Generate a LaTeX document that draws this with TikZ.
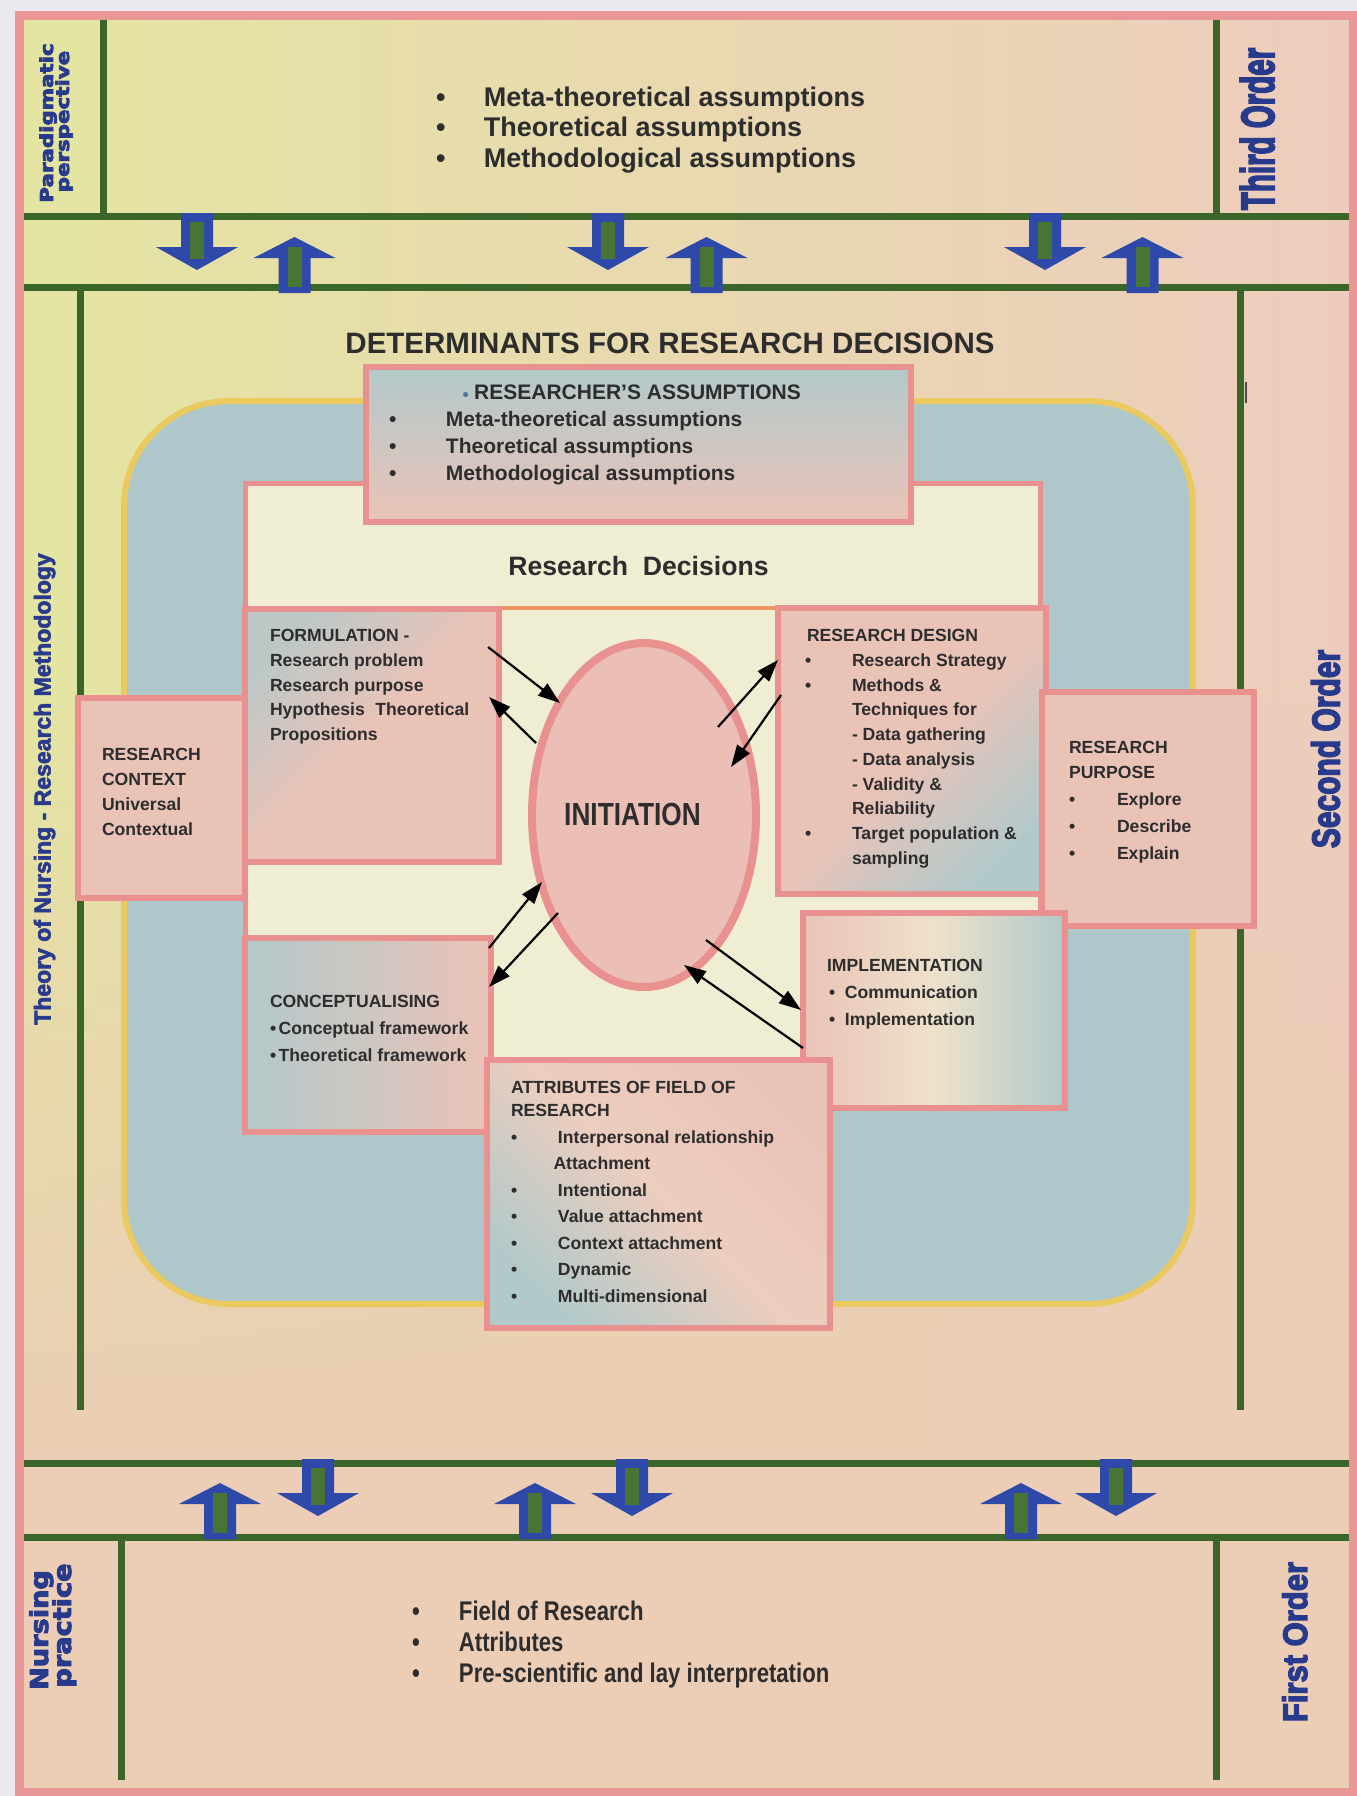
\documentclass[tikz,border=0pt]{standalone}
\usepackage{fontspec}
\usepackage{graphicx}
\setmainfont{Liberation Sans}
\newfontfamily\condfont{Liberation Sans}[FakeStretch=0.82]
\newfontfamily\widefont{DejaVu Sans}
\usetikzlibrary{arrows.meta,shapes.geometric,fadings}

\definecolor{bgyellow}{RGB}{228,229,162}
\definecolor{bgpink}{RGB}{237,204,189}
\definecolor{bgpeach}{RGB}{235,206,181}
\definecolor{framepink}{RGB}{232,150,150}
\definecolor{linegreen}{RGB}{58,102,42}
\definecolor{arrblue}{RGB}{47,73,170}
\definecolor{arrgreen}{RGB}{72,116,52}
\definecolor{tealfill}{RGB}{174,199,202}
\definecolor{ringyellow}{RGB}{234,201,95}
\definecolor{boxpink}{RGB}{233,145,143}
\definecolor{fillpink}{RGB}{234,195,183}
\definecolor{fillblue}{RGB}{178,201,202}
\definecolor{ellpink}{RGB}{235,191,181}
\definecolor{cream}{RGB}{240,238,210}
\definecolor{txt}{RGB}{45,45,45}
\definecolor{navy}{RGB}{40,58,140}
\definecolor{sepline}{RGB}{236,150,100}
\definecolor{margin}{RGB}{232,233,238}
\definecolor{bulblue}{RGB}{80,120,170}

\newcommand\bul[1]{\makebox[#1][l]{\textbullet}}
\newcommand\heavy[2]{\special{pdf:literal direct 2 Tr #1 w}#2\special{pdf:literal direct 0 Tr}}
\newcommand\dnarr[2]{%
 \fill[arrblue] ({#1-16},#2) -- ({#1+16},#2) -- ({#1+16},{#2+34}) -- ({#1+41},{#2+34}) -- (#1,{#2+57}) -- ({#1-41},{#2+34}) -- ({#1-16},{#2+34}) -- cycle;
 \fill[arrgreen] ({#1-7},{#2+9}) rectangle ({#1+7},{#2+46});}
\newcommand\uparr[2]{%
 \fill[arrblue] (#1,#2) -- ({#1+41},{#2+21}) -- ({#1+16},{#2+21}) -- ({#1+16},{#2+56}) -- ({#1-16},{#2+56}) -- ({#1-16},{#2+21}) -- ({#1-41},{#2+21}) -- cycle;
 \fill[arrgreen] ({#1-7},{#2+10}) rectangle ({#1+7},{#2+50});}

\tikzset{
  gline/.style={draw=linegreen, line width=7pt},
  boxst/.style={draw=boxpink, line width=6pt, rectangle, inner sep=0pt, outer sep=0pt},
  tx/.style={anchor=base west, inner sep=0pt, outer sep=0pt, text=txt, font=\bfseries\fontsize{17.6}{24.75}\selectfont},
  lbl/.style={rotate=90, anchor=base, inner sep=0pt, outer sep=0pt, text=navy},
  blk/.style={draw=black, line width=2.2pt, -{Triangle[length=22pt,width=15pt]}},
}

\begin{document}
\begin{tikzpicture}[x=1pt,y=-1pt]
\useasboundingbox (0,0) rectangle (1357,1796);
\fill[margin] (0,0) rectangle (1357,1796);
% background
\shade[left color=bgyellow, right color=bgpink] (19,15) rectangle (1353,1792);
\fill[bgpeach, path fading=north] (19,700) rectangle (1353,1450);
\fill[bgpeach] (19,1449) rectangle (1353,1792);

% green lines
\draw[gline] (19,216) -- (1353,216);
\draw[gline] (19,287) -- (1353,287);
\draw[gline] (103.5,19) -- (103.5,216);
\draw[gline] (1216,19) -- (1216,216);
\draw[gline] (80,287) -- (80,1410);
\draw[gline] (1240,287) -- (1240,1410);
\draw[gline] (19,1463) -- (1353,1463);
\draw[gline] (19,1537) -- (1353,1537);
\draw[gline] (121,1537) -- (121,1780);
\draw[gline] (1216,1537) -- (1216,1780);
\draw[black!70, line width=1.5pt] (1246,382) -- (1246,403);

% frame
\draw[framepink, line width=9pt] (19,15) rectangle (1353,1792);

% blue arrows
\dnarr{197}{213} \uparr{294.5}{237}
\dnarr{608}{213} \uparr{706.5}{237}
\dnarr{1045}{213} \uparr{1142.5}{237}
\uparr{220}{1483} \dnarr{318}{1459}
\uparr{535}{1483} \dnarr{632}{1459}
\uparr{1021}{1483} \dnarr{1116}{1459}

% top and bottom lists
\node[tx, font=\bfseries\fontsize{27}{30.5}\selectfont] (toplist) at (436,106)
 {\begin{tabular}[t]{@{}l@{}}\bul{48pt}Meta-theoretical assumptions\\ \bul{48pt}Theoretical assumptions\\ \bul{48pt}Methodological assumptions\end{tabular}};
\node[tx, font=\condfont\bfseries\fontsize{27}{31}\selectfont] (botlist) at (412,1620.5)
 {\begin{tabular}[t]{@{}l@{}}\bul{47pt}Field of Research\\ \bul{47pt}Attributes\\ \bul{47pt}Pre-scientific and lay interpretation\end{tabular}};

% rotated labels
\node[lbl, font=\widefont\bfseries\fontsize{17.8}{18}\selectfont] (para1) at (53,123) {\scalebox{1.2}[1]{\heavy{0.7}{Paradigmatic}}};
\node[lbl, font=\widefont\bfseries\fontsize{17.8}{18}\selectfont] (para2) at (69,121.5) {\scalebox{1.2}[1]{\heavy{0.7}{perspective}}};
\node[lbl, font=\widefont\bfseries\fontsize{24.7}{25}\selectfont] (nurs1) at (48,1630) {\scalebox{1.1}[1]{\heavy{0.9}{Nursing}}};
\node[lbl, font=\widefont\bfseries\fontsize{24.7}{25}\selectfont] (nurs2) at (71,1625.5) {\scalebox{1.1}[1]{\heavy{0.9}{practice}}};
\node[lbl, font=\bfseries\fontsize{29.5}{30}\selectfont] (third) at (1274,129) {\scalebox{1}[1.58]{\heavy{1.3}{Third Order}}};
\node[lbl, font=\bfseries\fontsize{30}{30}\selectfont] (second) at (1339.5,749) {\scalebox{1}[1.3]{\heavy{1.2}{Second Order}}};
\node[lbl, font=\bfseries\fontsize{31}{31}\selectfont] (first) at (1307,1642) {\scalebox{1}[1.1]{\heavy{1.2}{First Order}}};
\node[lbl, font=\bfseries\fontsize{23}{23}\selectfont] (theory) at (50.5,789) {\heavy{0.6}{Theory of Nursing - Research Methodology}};

% determinants title
\node[anchor=base, inner sep=0pt, text=txt, font=\bfseries\fontsize{29.5}{30}\selectfont] (determ) at (670,353) {DETERMINANTS FOR RESEARCH DECISIONS};

% rounded teal ring
\draw[ringyellow, line width=6pt, fill=tealfill, rounded corners=105pt] (124,401) rectangle (1193,1304);

% cream decisions box
\node[boxst, line width=5pt, fill=cream, minimum width=795pt, minimum height=579pt] (dec) at (642.5,772.5) {};
\draw[sepline, line width=4pt] (498,608) -- (779,608);

% boxes
\node[boxst, top color=fillblue, bottom color=fillpink, minimum width=545pt, minimum height=155pt] (assum) at (638.5,444.5) {};
\node[boxst, top color=fillblue!80!fillpink, bottom color=fillpink, middle color=fillpink, shading angle=45, minimum width=254pt, minimum height=253pt] (form) at (372,735.5) {};
\node[boxst, fill=fillpink, minimum width=167pt, minimum height=200pt] (ctx) at (161.5,798) {};
\node[boxst, left color=fillblue, right color=fillpink, minimum width=246pt, minimum height=194pt] (conc) at (368,1035) {};
\node[boxst, top color=fillpink, bottom color=fillblue, middle color=fillpink, shading angle=45, minimum width=268pt, minimum height=286pt] (rd) at (912,751) {};
\node[boxst, fill=fillpink, minimum width=212pt, minimum height=234pt] (rp) at (1148,809) {};
\node[boxst, left color=fillpink, right color=fillblue, middle color=cream!70!fillpink, minimum width=262pt, minimum height=195pt] (impl) at (934,1010.5) {};
\node[boxst, top color=fillpink, bottom color=fillblue, middle color=fillpink!75!cream, shading angle=-45, minimum width=343pt, minimum height=268pt] (attr) at (658.5,1194) {};
\node[ellipse, draw=boxpink, line width=8pt, fill=ellpink, minimum width=224pt, minimum height=344pt, inner sep=0pt] (init) at (644,815) {};

% texts
\node[anchor=base, inner sep=0pt, text=txt, font=\bfseries\fontsize{26.6}{28}\selectfont] (dectitle) at (638.5,575) {Research\hspace{0.556em}Decisions};
\node[tx, font=\bfseries\fontsize{21}{27}\selectfont] (asshead) at (463,399)
 {\raisebox{4.5pt}{\tikz[baseline]\fill[bulblue] (0,0) circle[radius=2.6pt];}\kern6pt RESEARCHER'S ASSUMPTIONS};
\node[tx, font=\bfseries\fontsize{21}{27}\selectfont] (asslist) at (389,426)
 {\begin{tabular}[t]{@{}l@{}}\bul{57pt}Meta-theoretical assumptions\\ \bul{57pt}Theoretical assumptions\\ \bul{57pt}Methodological assumptions\end{tabular}};
\node[tx] (formtxt) at (270,641.5)
 {\begin{tabular}[t]{@{}l@{}}FORMULATION -\\ Research problem\\ Research purpose\\ Hypothesis\hspace{0.6em}Theoretical\\ Propositions\end{tabular}};
\node[tx, font=\bfseries\fontsize{17.6}{25}\selectfont] (ctxtxt) at (102,760)
 {\begin{tabular}[t]{@{}l@{}}RESEARCH\\ CONTEXT\\ Universal\\ Contextual\end{tabular}};
\node[tx, font=\bfseries\fontsize{17.6}{27}\selectfont] (conctxt) at (270,1007)
 {\begin{tabular}[t]{@{}l@{}}CONCEPTUALISING\\ \textbullet\kern2.5pt Conceptual framework\\ \textbullet\kern2.5pt Theoretical framework\end{tabular}};
\node[tx] (rdtxt) at (805,641.7)
 {\begin{tabular}[t]{@{}l@{}}\hspace{2pt}RESEARCH DESIGN\\ \bul{47pt}Research Strategy\\ \bul{47pt}Methods \&\\ \hspace{47pt}Techniques for\\ \hspace{47pt}- Data gathering\\ \hspace{47pt}- Data analysis\\ \hspace{47pt}- Validity \&\\ \hspace{47pt}Reliability\\ \bul{47pt}Target population \&\\ \hspace{47pt}sampling\end{tabular}};
\node[tx, font=\bfseries\fontsize{17.6}{27}\selectfont] (rptxt) at (1069,753)
 {\begin{tabular}[t]{@{}l@{}}RESEARCH\\[-2pt] PURPOSE\\ \bul{48pt}Explore\\ \bul{48pt}Describe\\ \bul{48pt}Explain\end{tabular}};
\node[tx, font=\bfseries\fontsize{17.6}{26.7}\selectfont] (impltxt) at (827,971.7)
 {\begin{tabular}[t]{@{}l@{}}IMPLEMENTATION\\ \hspace{2pt}\bul{16pt}Communication\\ \hspace{2pt}\bul{16pt}Implementation\end{tabular}};
\node[tx, font=\bfseries\fontsize{17.6}{26.5}\selectfont] (attrtxt) at (511,1093)
 {\begin{tabular}[t]{@{}l@{}}ATTRIBUTES OF FIELD OF\\[-3pt] RESEARCH\\ \bul{47pt}Interpersonal relationship\\ \hspace{42.5pt}Attachment\\ \bul{47pt}Intentional\\ \bul{47pt}Value attachment\\ \bul{47pt}Context attachment\\ \bul{47pt}Dynamic\\ \bul{47pt}Multi-dimensional\end{tabular}};
\node[anchor=base, inner sep=0pt, text=txt, font=\condfont\bfseries\fontsize{32}{34}\selectfont] (inittxt) at (632.5,825) {INITIATION};

% black arrows
\coordinate (a1s) at (488,647); \coordinate (a1e) at (560,703);
\coordinate (a2s) at (536,743); \coordinate (a2e) at (489,697);
\coordinate (a3s) at (489,948); \coordinate (a3e) at (542,882);
\coordinate (a4s) at (558,913); \coordinate (a4e) at (489,987);
\coordinate (a5s) at (718,727); \coordinate (a5e) at (778,660);
\coordinate (a6s) at (781,695); \coordinate (a6e) at (731,767);
\coordinate (a7s) at (706,940); \coordinate (a7e) at (801,1010);
\coordinate (a8s) at (803,1048); \coordinate (a8e) at (684,965);
\draw[blk] (a1s) -- (a1e);
\draw[blk] (a2s) -- (a2e);
\draw[blk] (a3s) -- (a3e);
\draw[blk] (a4s) -- (a4e);
\draw[blk] (a5s) -- (a5e);
\draw[blk] (a6s) -- (a6e);
\draw[blk] (a7s) -- (a7e);
\draw[blk] (a8s) -- (a8e);
\end{tikzpicture}
\end{document}
